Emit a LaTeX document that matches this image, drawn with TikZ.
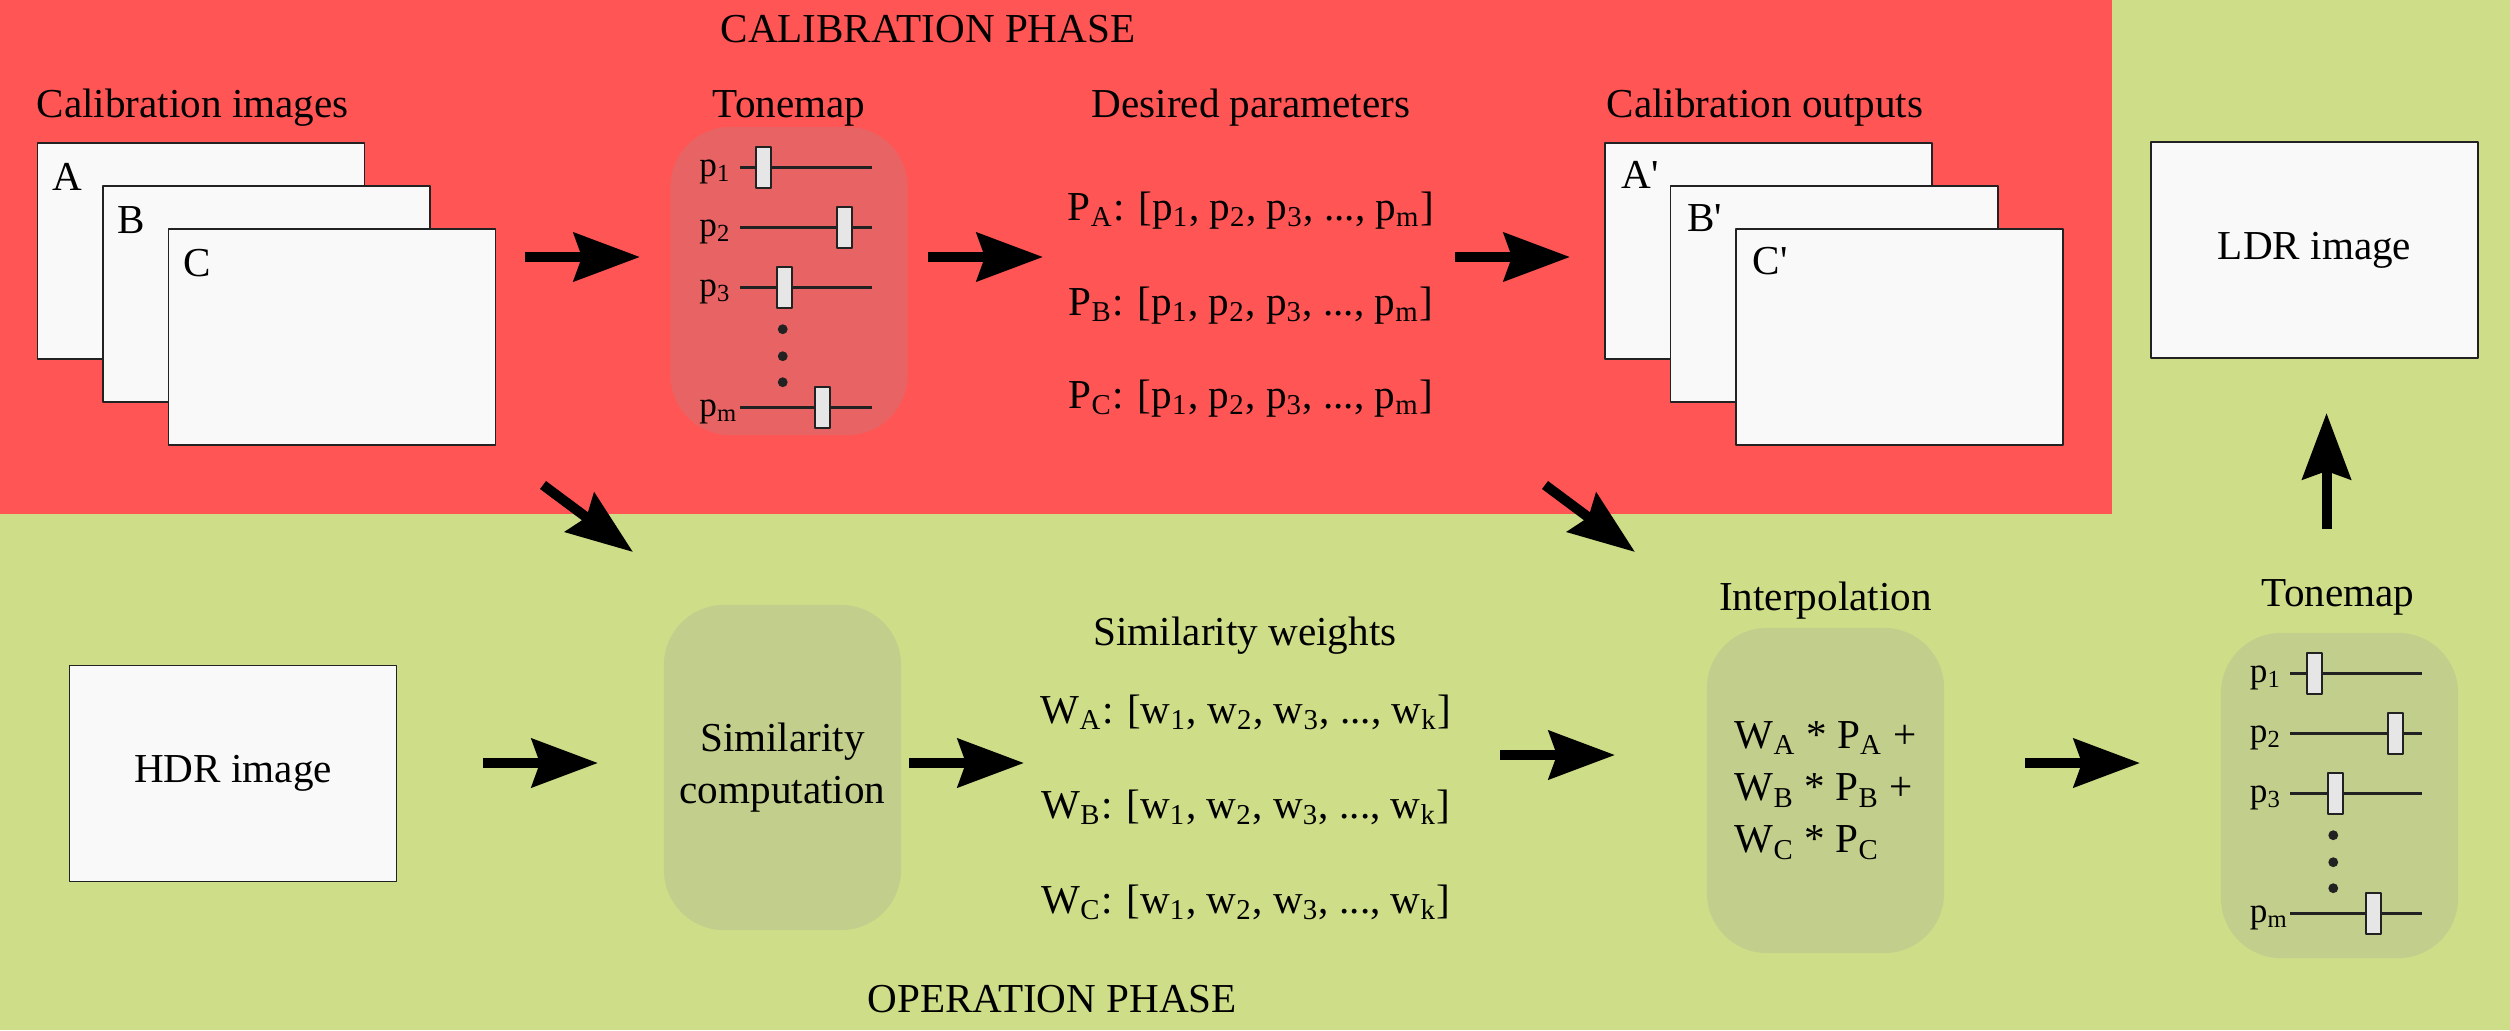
\documentclass[tikz,border=0pt]{standalone}
\usepackage{fontspec}
\setmainfont{Liberation Serif}
\usetikzlibrary{arrows.meta,calc}
\definecolor{calibred}{HTML}{FF5555}
\definecolor{opgreen}{HTML}{CEDD88}
\definecolor{paper}{HTML}{F9F9F9}
\definecolor{ink}{HTML}{222222}
\definecolor{knobgray}{HTML}{E6E6E6}
\tikzset{
	frame/.style={draw=ink, line width=0.5pt, fill=paper, minimum width=3.27cm, minimum height=2.16cm, inner sep=0pt},
	framelbl/.style={anchor=base west, inner sep=0pt},
	stage/.style={rounded corners=0.6cm, fill=black!40, fill opacity=0.22, text opacity=1, minimum width=2.37cm, minimum height=3.25cm, align=center},
	lbl/.style={anchor=base, inner sep=0pt},
	bigarrow/.style={line width=0.1cm, -{Stealth[length=0.66cm, width=0.48cm, inset=0.08cm]}},
	slidebar/.style={draw=ink, line width=0.9pt},
	knob/.style={draw=ink, line width=0.6pt, fill=knobgray}
}
\newcommand\plist{[p\textsubscript{1}, p\textsubscript{2}, p\textsubscript{3}, ..., p\textsubscript{m}]}
\newcommand\wlist{[w\textsubscript{1}, w\textsubscript{2}, w\textsubscript{3}, ..., w\textsubscript{k}]}
% sliders inside a tonemap box, relative to its north west corner
\newcommand\tonesliders[1]{%
	\begin{scope}[shift={(#1.north west)}]
		\foreach \k/\dy/\kx in {1/41/94, 2/101/175, 3/161/115, m/281/153}{
			\draw[slidebar] (70,\dy) -- (202,\dy);
			\draw[knob] (\kx-7.5,\dy-20.5) rectangle (\kx+7.5,\dy+20.5);
			\node[anchor=base west, inner sep=0pt, font=\fontsize{10}{12}\selectfont] (#1p\k) at (29,\dy+9) {p\textsubscript{\k}};
		}
		\foreach \dy in {203,230,256} \fill[ink] (113,\dy) circle (1.4pt);
	\end{scope}}
\begin{document}
\begin{tikzpicture}[x=0.01cm, y=-0.01cm, font=\fontsize{11.7}{14.8}\selectfont, line join=round]
	% phases
	\fill[opgreen] (0,0) rectangle (2510,1030);
	\fill[calibred] (0,0) rectangle (2112,514);
	\node[lbl] (calib) at (928,42) {CALIBRATION PHASE};
	\node[anchor=base west, inner sep=0pt] (oper) at (867,1012) {OPERATION PHASE};
	
	% calibration row
	\node[anchor=base west, inner sep=0pt] (lblimg) at (36,117) {Calibration images};
	\foreach \n [count=\i from 0] in {A,B,C}{
		\node[frame] (img\n) at (201+65.5*\i, 251+43*\i) {};
		\node[framelbl] (lbl\n) at ([shift={(15,48)}]img\n.north west) {\n};
	}
	\node[stage, minimum height=3.08cm] (tm1) at (789,281) {};
	\node[lbl] (lbltm1) at (789,117) {Tonemap};
	\tonesliders{tm1}
	\node[lbl] (lblpar) at (1251,117) {Desired parameters};
	\foreach \n/\y in {A/220, B/315, C/408}
		\node[lbl] (par\n) at (1251,\y) {P\textsubscript{\n}: \plist};
	\node[anchor=base west, inner sep=0pt] (lblout) at (1606,117) {Calibration outputs};
	\foreach \n [count=\i from 0] in {A,B,C}{
		\node[frame] (out\n) at (1768.5+65.5*\i, 251+43*\i) {};
		\node[framelbl] (olbl\n) at ([shift={(17,46)}]out\n.north west) {\n\textquotesingle};
	}
	\node[frame] (ldr) at (2314.5,250) {LDR image};
	
	% operation row
	\node[frame] (hdr) at (233,773.5) {HDR image};
	\node[stage] (simc) at (782.5,767.5) {Similarity\\computation};
	\node[lbl] (lblwt) at (1245,645) {Similarity weights};
	\foreach \n/\y in {A/723, B/818, C/913}
		\node[lbl] (wt\n) at (1246,\y) {W\textsubscript{\n}: \wlist};
	\node[stage, align=left] (interp) at (1825.5,790.5) {W\textsubscript{A} * P\textsubscript{A} +\\W\textsubscript{B} * P\textsubscript{B} +\\W\textsubscript{C} * P\textsubscript{C}};
	\node[lbl] (lblinterp) at (1825.5,610) {Interpolation};
	\node[stage] (tm2) at (2339.5,795.5) {};
	\node[lbl] (lbltm2) at (2338,606) {Tonemap};
	\tonesliders{tm2}
	
	% arrows
	\coordinate (a1s) at (525,257);   \coordinate (a1e) at (640,257);
	\coordinate (a2s) at (928,257);   \coordinate (a2e) at (1043,257);
	\coordinate (a3s) at (1455,257);  \coordinate (a3e) at (1570,257);
	\coordinate (d1s) at (543,485);   \coordinate (d1e) at (633,552);
	\coordinate (d2s) at (1545,485);  \coordinate (d2e) at (1635,552);
	\coordinate (b1s) at (483,763);   \coordinate (b1e) at (598,763);
	\coordinate (b2s) at (909,763);   \coordinate (b2e) at (1024,763);
	\coordinate (b3s) at (1500,755);  \coordinate (b3e) at (1615,755);
	\coordinate (b4s) at (2025,763);  \coordinate (b4e) at (2140,763);
	\coordinate (ups) at (2326.5,529); \coordinate (upe) at (2326.5,413);
	\foreach \a in {a1,a2,a3,d1,d2,b1,b2,b3,b4,up}
		\draw[bigarrow] (\a s) -- (\a e);
\end{tikzpicture}
\end{document}
